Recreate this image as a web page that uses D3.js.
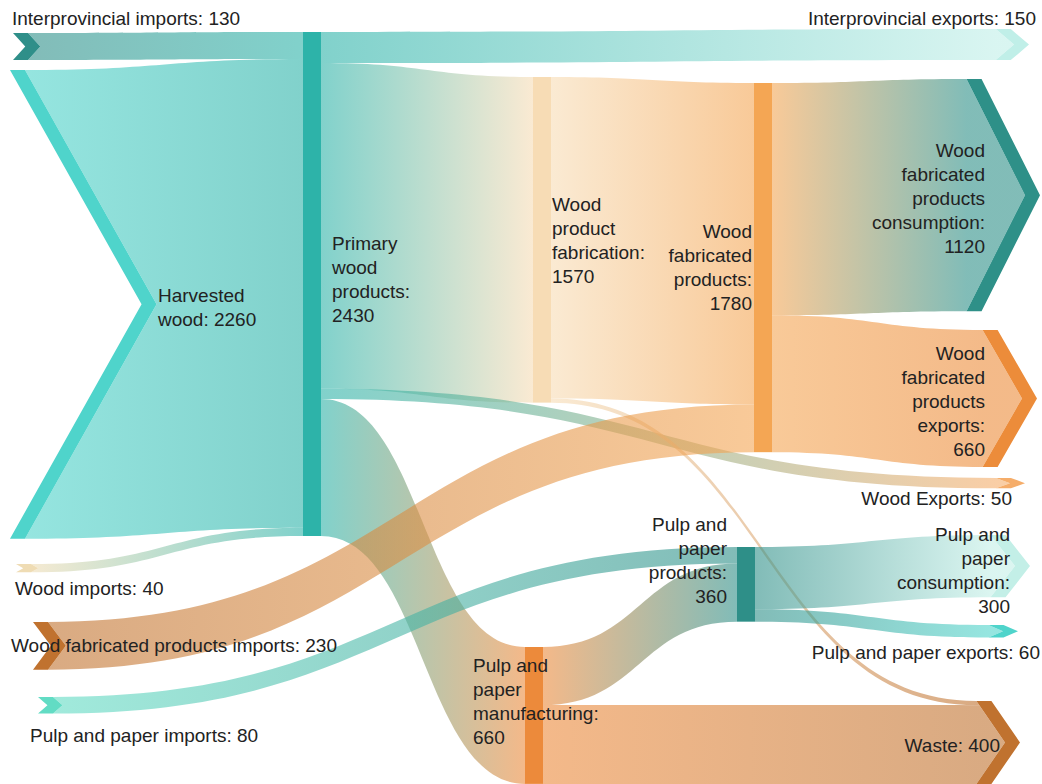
<!DOCTYPE html>
<html>
<head>
<meta charset="utf-8">
<script src="https://cdn.jsdelivr.net/npm/d3@7"></script>
<style>
  body { margin: 0; background: #fff; }
  svg { display: block; }
  text { font-family: "Liberation Sans", Arial, Helvetica, sans-serif; font-size: 19px; fill: #222; }
</style>
</head>
<body>
<svg id="chart" width="1042" height="784"></svg>
<script>
// ---------------- DATA ----------------
const nodeNames = [
  "Interprovincial imports",
  "Harvested wood",
  "Wood imports",
  "Wood fabricated products imports",
  "Pulp and paper imports",
  "Primary wood products",
  "Wood product fabrication",
  "Pulp and paper manufacturing",
  "Wood fabricated products",
  "Pulp and paper products",
  "Interprovincial exports",
  "Wood fabricated products consumption",
  "Wood fabricated products exports",
  "Wood Exports",
  "Pulp and paper consumption",
  "Pulp and paper exports",
  "Waste"
];
const nodeColors = [
  "#2f8f89", "#4fd4cb", "#efdcb4", "#c0722f", "#62dcc4",
  "#2db3a9", "#f7dcb5", "#ec8a3b", "#f4a654", "#2e8f88",
  "#c0efe8", "#2e9088", "#ec8c3a", "#f5ad6a", "#c3efe7",
  "#4fd4cb", "#c0722f"
];
const linkSources = [
  "Interprovincial imports", "Harvested wood", "Wood imports",
  "Primary wood products", "Primary wood products", "Primary wood products", "Primary wood products",
  "Wood product fabrication", "Wood product fabrication",
  "Wood fabricated products imports",
  "Wood fabricated products", "Wood fabricated products",
  "Pulp and paper imports",
  "Pulp and paper manufacturing", "Pulp and paper manufacturing",
  "Pulp and paper products", "Pulp and paper products"
];
const linkTargets = [
  "Primary wood products", "Primary wood products", "Primary wood products",
  "Interprovincial exports", "Wood product fabrication", "Wood Exports", "Pulp and paper manufacturing",
  "Wood fabricated products", "Waste",
  "Wood fabricated products",
  "Wood fabricated products consumption", "Wood fabricated products exports",
  "Pulp and paper products",
  "Pulp and paper products", "Waste",
  "Pulp and paper consumption", "Pulp and paper exports"
];
const linkValues = [
  130, 2260, 40,
  150, 1570, 50, 660,
  1550, 20,
  230,
  1120, 660,
  80,
  280, 380,
  300, 60
];

// ---------------- LAYOUT (positions / styles) ----------------
const nodeLayout = {
  "Interprovincial imports": {x: 13, y: 33},
  "Harvested wood": {x: 10, y: 70},
  "Wood imports": {x: 16, y: 564},
  "Wood fabricated products imports": {x: 33, y: 622},
  "Pulp and paper imports": {x: 38, y: 697},
  "Primary wood products": {x: 303, y: 32},
  "Wood product fabrication": {x: 533, y: 77},
  "Pulp and paper manufacturing": {x: 525, y: 647},
  "Wood fabricated products": {x: 754, y: 83},
  "Pulp and paper products": {x: 737, y: 547},
  "Interprovincial exports": {x: 1029, y: 29},
  "Wood fabricated products consumption": {x: 1040, y: 79},
  "Wood fabricated products exports": {x: 1037, y: 330},
  "Wood Exports": {x: 1025, y: 478},
  "Pulp and paper consumption": {x: 1030, y: 535},
  "Pulp and paper exports": {x: 1018, y: 625},
  "Waste": {x: 1020, y: 701}
};
const labelLayout = {
  "Interprovincial imports": {anchor: "start", x: 12, cy: 18},
  "Harvested wood": {anchor: "start", x: 158, cy: 307, lines: [1, 2]},
  "Wood imports": {anchor: "start", x: 15, cy: 588},
  "Wood fabricated products imports": {anchor: "start", x: 11, cy: 645},
  "Pulp and paper imports": {anchor: "start", x: 30, cy: 735},
  "Primary wood products": {anchor: "start", x: 332, cy: 279, lines: [1, 1, 1, 1]},
  "Wood product fabrication": {anchor: "start", x: 552, cy: 240, lines: [1, 1, 1, 1]},
  "Pulp and paper manufacturing": {anchor: "start", x: 473, cy: 701, lines: [2, 1, 1, 1]},
  "Wood fabricated products": {anchor: "end", x: 752, cy: 267, lines: [1, 1, 1, 1]},
  "Pulp and paper products": {anchor: "end", x: 727, cy: 560, lines: [2, 1, 1, 1]},
  "Interprovincial exports": {anchor: "end", x: 1036, cy: 18},
  "Wood fabricated products consumption": {anchor: "end", x: 985, cy: 198, lines: [1, 1, 1, 1, 1]},
  "Wood fabricated products exports": {anchor: "end", x: 985, cy: 401, lines: [1, 1, 1, 1, 1]},
  "Wood Exports": {anchor: "end", x: 1012, cy: 498},
  "Pulp and paper consumption": {anchor: "end", x: 1010, cy: 570, lines: [2, 1, 1, 1]},
  "Pulp and paper exports": {anchor: "end", x: 1040, cy: 652},
  "Waste": {anchor: "end", x: 1000, cy: 745}
};
const nodeWidth = 18, bandWidth = 15, linkOpacity = 0.6, lineHeight = 24, maxNodeHeight = 504;

// ---------------- BUILD GRAPH ----------------
const nodes = nodeNames.map((name, i) => ({name, color: nodeColors[i], ins: [], outs: []}));
const byName = new Map(nodes.map(n => [n.name, n]));
const links = linkValues.map((v, i) => {
  const l = {source: byName.get(linkSources[i]), target: byName.get(linkTargets[i]), value: v, index: i};
  l.source.outs.push(l); l.target.ins.push(l);
  return l;
});
nodes.forEach(n => {
  n.value = Math.max(d3.sum(n.ins, l => l.value), d3.sum(n.outs, l => l.value));
  n.kind = n.ins.length === 0 ? "source" : (n.outs.length === 0 ? "sink" : "bar");
});

const yScale = d3.scaleLinear().domain([0, d3.max(nodes, n => n.value)]).range([0, maxNodeHeight]);

nodes.forEach(n => {
  const L = nodeLayout[n.name];
  n.h = yScale(n.value);
  n.y0 = L.y; n.y1 = L.y + n.h; n.ym = (n.y0 + n.y1) / 2;
  if (n.kind === "bar") { n.x0 = L.x; n.x1 = L.x + nodeWidth; }
  else if (n.kind === "source") { n.d = 0.27 * n.h + 5; n.x0 = L.x; n.linkX = L.x + bandWidth; }
  else { n.d = 0.2 * n.h + 12; n.xo = L.x - n.d; n.linkX = n.xo - bandWidth; }
  // x of the chevron / arrow inner edge at height y
  n.edgeX = y => n.linkX + n.d * (1 - Math.abs(y - n.ym) / (n.h / 2));
  let yo = n.y0; n.outs.forEach(l => { l.sy0 = yo; yo += yScale(l.value); l.sy1 = yo; });
  let yi = n.y0; n.ins.forEach(l => { l.ty0 = yi; yi += yScale(l.value); l.ty1 = yi; });
});

// ---------------- DRAW ----------------
const svg = d3.select("#chart");
const defs = svg.append("defs");
const poly = d3.line();

links.forEach(l => {
  l.sx = l.source.kind === "source" ? l.source.linkX : l.source.x1;
  l.tx = l.target.kind === "sink" ? l.target.linkX : l.target.x0;
  const g = defs.append("linearGradient")
    .attr("id", "lg" + l.index).attr("gradientUnits", "userSpaceOnUse")
    .attr("x1", l.sx).attr("x2", l.tx).attr("y1", 0).attr("y2", 0);
  g.append("stop").attr("offset", "0%").attr("stop-color", l.source.color);
  g.append("stop").attr("offset", "100%").attr("stop-color", l.target.color);
});

function linkPath(l) {
  const p = d3.path();
  const xm = (l.sx + l.tx) / 2;
  const s = l.source, t = l.target;
  p.moveTo(l.sx, l.sy0);
  p.bezierCurveTo(xm, l.sy0, xm, l.ty0, l.tx, l.ty0);
  if (t.kind === "sink") {
    // follow the arrow's inner edge
    p.lineTo(t.edgeX(l.ty0), l.ty0);
    if (t.ym > l.ty0 && t.ym < l.ty1) p.lineTo(t.linkX + t.d, t.ym);
    p.lineTo(t.edgeX(l.ty1), l.ty1);
  }
  p.lineTo(l.tx, l.ty1);
  p.bezierCurveTo(xm, l.ty1, xm, l.sy1, l.sx, l.sy1);
  if (s.kind === "source") {
    // follow the chevron's inner edge
    p.lineTo(s.edgeX(l.sy1), l.sy1);
    if (s.ym > l.sy0 && s.ym < l.sy1) p.lineTo(s.linkX + s.d, s.ym);
    p.lineTo(s.edgeX(l.sy0), l.sy0);
  }
  p.closePath();
  return p.toString();
}

svg.append("g").selectAll("path").data(links).join("path")
  .attr("d", linkPath)
  .attr("fill", l => `url(#lg${l.index})`)
  .attr("fill-opacity", linkOpacity);

const sinks = nodes.filter(n => n.kind === "sink");
const sources = nodes.filter(n => n.kind === "source");
const bars = nodes.filter(n => n.kind === "bar");

// sink arrow bands
svg.append("g").selectAll("path").data(sinks).join("path")
  .attr("d", n => poly([[n.xo - bandWidth, n.y0], [n.xo, n.y0], [n.xo + n.d, n.ym], [n.xo, n.y1],
                        [n.xo - bandWidth, n.y1], [n.xo - bandWidth + n.d, n.ym]]) + "Z")
  .attr("fill", n => n.color);

// source chevrons
svg.append("g").selectAll("path").data(sources).join("path")
  .attr("d", n => poly([[n.x0, n.y0], [n.x0 + bandWidth, n.y0], [n.x0 + bandWidth + n.d, n.ym],
                        [n.x0 + bandWidth, n.y1], [n.x0, n.y1], [n.x0 + n.d, n.ym]]) + "Z")
  .attr("fill", n => n.color);

// intermediate node bars
svg.append("g").selectAll("rect").data(bars).join("rect")
  .attr("x", n => n.x0).attr("y", n => n.y0)
  .attr("width", n => n.x1 - n.x0).attr("height", n => n.h)
  .attr("fill", n => n.color);

// labels
const lab = svg.append("g");
nodes.forEach(n => {
  const L = labelLayout[n.name];
  const words = (n.name + ": " + d3.format("d")(n.value)).split(" ");
  const counts = L.lines || [words.length];
  const lines = [];
  let k = 0;
  counts.forEach(c => { lines.push(words.slice(k, k + c).join(" ")); k += c; });
  lines.forEach((t, i) => {
    lab.append("text")
      .attr("x", L.x)
      .attr("y", L.cy + (i - (lines.length - 1) / 2) * lineHeight)
      .attr("dy", "0.35em")
      .attr("text-anchor", L.anchor)
      .text(t);
  });
});
</script>
</body>
</html>
